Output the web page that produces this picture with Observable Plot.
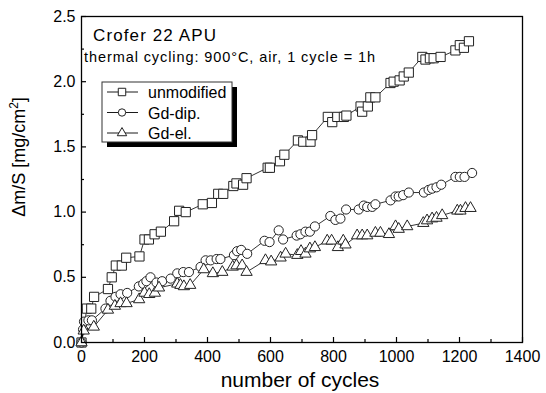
<!DOCTYPE html>
<html>
<head>
<meta charset="utf-8">
<script src="https://cdn.jsdelivr.net/npm/d3@7"></script>
<script src="https://cdn.jsdelivr.net/npm/@observablehq/plot@0.6"></script>
<style>
  html, body { margin: 0; padding: 0; background: #fff; }
  #chart svg { display: block; }
</style>
</head>
<body>
<div id="chart"></div>
<script>
// ---- data (cycles, Δm/S in mg/cm²) ----
const unmodCycles = [0,17,31,40,84,96,109,128,142,184,200,214,232,252,294,310,331,385,414,434,450,482,492,513,524,591,598,630,644,687,704,727,732,782,796,812,833,841,886,891,909,917,933,981,991,1010,1023,1039,1082,1092,1106,1118,1140,1187,1201,1214,1230];
const unmodValues = [0.0,0.26,0.26,0.35,0.41,0.50,0.59,0.59,0.65,0.66,0.79,0.79,0.83,0.85,0.93,1.01,1.00,1.06,1.07,1.14,1.14,1.20,1.22,1.21,1.26,1.34,1.34,1.39,1.44,1.55,1.54,1.54,1.59,1.73,1.69,1.73,1.73,1.74,1.81,1.77,1.81,1.88,1.88,1.99,2.00,2.01,2.04,2.07,2.19,2.17,2.18,2.18,2.19,2.24,2.28,2.26,2.31];

const dipCycles = [0,5,8,22,33,76,92,108,124,145,182,196,206,219,238,256,283,304,323,341,378,394,410,429,441,484,494,507,526,581,597,626,640,683,695,711,725,741,790,806,822,840,880,896,907,923,933,981,997,1007,1021,1039,1087,1102,1113,1127,1142,1187,1201,1216,1240];
const dipValues = [0.0,0.10,0.16,0.17,0.17,0.26,0.32,0.35,0.37,0.38,0.43,0.45,0.47,0.50,0.46,0.47,0.49,0.53,0.54,0.54,0.58,0.63,0.63,0.64,0.64,0.67,0.70,0.71,0.68,0.78,0.77,0.86,0.79,0.82,0.83,0.85,0.85,0.89,0.97,0.94,0.95,1.02,1.02,1.05,1.04,1.04,1.06,1.09,1.12,1.12,1.13,1.15,1.15,1.17,1.18,1.19,1.21,1.27,1.27,1.27,1.30];

const elCycles = [0,7,39,84,106,124,143,183,200,215,233,246,304,314,325,345,388,417,447,480,492,510,524,584,602,632,648,685,697,711,725,741,780,794,814,831,838,875,891,907,933,949,976,997,1007,1034,1085,1097,1113,1127,1145,1193,1203,1219,1235];
const elValues = [0.0,0.09,0.12,0.25,0.28,0.30,0.30,0.33,0.38,0.37,0.38,0.42,0.45,0.44,0.43,0.44,0.56,0.53,0.54,0.58,0.59,0.59,0.54,0.63,0.62,0.65,0.68,0.67,0.70,0.68,0.72,0.73,0.78,0.78,0.73,0.78,0.75,0.82,0.82,0.82,0.84,0.84,0.83,0.89,0.87,0.89,0.915,0.935,0.95,0.955,0.975,1.01,1.01,1.03,1.03];

const seriesNames = ["unmodified", "Gd-dip.", "Gd-el."];
const xMajorTicks = [0,200,400,600,800,1000,1200,1400];
const xMinorTicks = [100,300,500,700,900,1100,1300];
const yMajorTicks = [0,0.5,1.0,1.5,2.0,2.5];
const yMinorTicks = [0.25,0.75,1.25,1.75,2.25];
const titleText = "Crofer 22 APU";
const subtitleText = "thermal cycling: 900°C, air, 1 cycle = 1h";
const xLabel = "number of cycles";

const toRows = (xs, ys) => xs.map((c, i) => ({c, v: ys[i]}));
const unmod = toRows(unmodCycles, unmodValues);
const dip = toRows(dipCycles, dipValues);
const el = toRows(elCycles, elValues);

const W = 546, H = 393;
const mL = 81, mR = 24, mT = 16, mB = 51;
const innerW = W - mL - mR, innerH = H - mT - mB;
const FONT = "'Liberation Sans', Arial, Helvetica, sans-serif";
const mk = "#222";

const plot = Plot.plot({
  width: W, height: H,
  marginLeft: mL, marginRight: mR, marginTop: mT, marginBottom: mB,
  style: {fontFamily: FONT, fontSize: "16px", color: "black", background: "white"},
  x: {domain: [0, 1400]},
  y: {domain: [0, 2.5]},
  marks: [
    Plot.axisX(xMajorTicks, {tickSize: 0, tickPadding: 8, fontSize: 16, tickFormat: d3.format("d"), label: null}),
    Plot.axisY(yMajorTicks, {tickSize: 0, tickPadding: 6, fontSize: 16, tickFormat: d3.format(".1f"), label: null}),
    Plot.tickX(xMajorTicks, {x: d => d, insetTop: innerH - 5, stroke: "black", strokeWidth: 1.2}),
    Plot.tickX(xMinorTicks, {x: d => d, insetTop: innerH - 3, stroke: "black", strokeWidth: 1.2}),
    Plot.tickY(yMajorTicks, {y: d => d, insetRight: innerW - 5, stroke: "black", strokeWidth: 1.2}),
    Plot.tickY(yMinorTicks, {y: d => d, insetRight: innerW - 3, stroke: "black", strokeWidth: 1.2}),
    Plot.line(unmod, {x: "c", y: "v", stroke: "black", strokeWidth: 0.8}),
    Plot.line(dip, {x: "c", y: "v", stroke: "black", strokeWidth: 0.8}),
    Plot.line(el, {x: "c", y: "v", stroke: "black", strokeWidth: 0.8}),
    Plot.dot(unmod, {x: "c", y: "v", symbol: "square", r: 5.2, fill: "white", stroke: mk, strokeWidth: 1}),
    Plot.dot(dip, {x: "c", y: "v", symbol: "circle", r: 4.6, fill: "white", stroke: mk, strokeWidth: 1}),
    Plot.dot(el, {x: "c", y: "v", symbol: "triangle", r: 4.2, fill: "white", stroke: mk, strokeWidth: 1}),
    Plot.frame({stroke: "black", strokeWidth: 1.3})
  ]
});

document.getElementById("chart").appendChild(plot);
const svg = d3.select(plot);

// annotations
svg.append("text").attr("x", 93).attr("y", 41).attr("text-anchor", "start").attr("font-size", 17)
  .attr("textLength", 123).attr("lengthAdjust", "spacing").attr("font-family", FONT).attr("fill", "black").text(titleText);
svg.append("text").attr("x", 84).attr("y", 62).attr("text-anchor", "start").attr("font-size", 14.5)
  .attr("textLength", 291).attr("lengthAdjust", "spacing").attr("font-family", FONT).attr("fill", "black").text(subtitleText);

// axis titles
svg.append("text").attr("x", 300).attr("y", 387).attr("text-anchor", "middle").attr("font-size", 21).attr("font-family", FONT).attr("fill", "black").text(xLabel);
const yt = svg.append("text").attr("transform", "translate(25,157) rotate(-90)").attr("text-anchor", "middle").attr("font-size", 18).attr("font-family", FONT).attr("fill", "black");
yt.append("tspan").text("Δm/S [mg/cm");
yt.append("tspan").attr("dy", -7).attr("font-size", 12).text("2");
yt.append("tspan").attr("dy", 7).text("]");

// legend
const lg = svg.append("g");
lg.append("rect").attr("x", 107).attr("y", 87).attr("width", 130).attr("height", 60).attr("fill", "black");
lg.append("rect").attr("x", 102).attr("y", 82).attr("width", 130).attr("height", 60).attr("fill", "white").attr("stroke", "#333").attr("stroke-width", 1);
const legSyms = [[d3.symbolSquare, 4.2], [d3.symbolCircle, 3.7], [d3.symbolTriangle, 3.5]];
seriesNames.forEach((name, i) => {
  const cy = 92 + i * 20.5;
  lg.append("line").attr("x1", 107).attr("x2", 138).attr("y1", cy).attr("y2", cy).attr("stroke", "black").attr("stroke-width", 0.9);
  const [t, r] = legSyms[i];
  lg.append("path").attr("d", d3.symbol().type(t).size(Math.PI * r * r)()).attr("transform", `translate(122,${cy})`).attr("fill", "white").attr("stroke", mk).attr("stroke-width", 1);
  lg.append("text").attr("x", 148).attr("y", cy + 6).attr("text-anchor", "start").attr("font-size", 16).attr("font-family", FONT).attr("fill", "black").text(name);
});
</script>
</body>
</html>
